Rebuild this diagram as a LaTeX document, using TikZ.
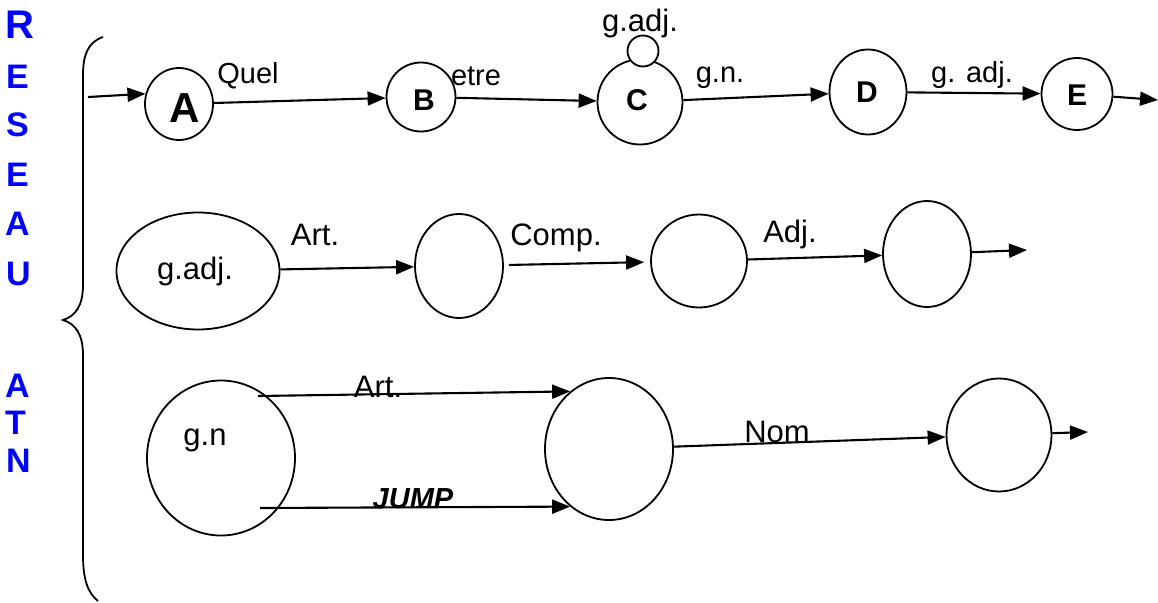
\documentclass[tikz,border=0pt]{standalone}
\usepackage{fontspec}
\setmainfont{Liberation Sans}
\usetikzlibrary{shapes.geometric,arrows.meta}
\definecolor{netblue}{RGB}{0,0,255}
\begin{document}
\begin{tikzpicture}[x=1pt,y=-1pt,
  stnode/.style={draw, ellipse, line width=1.8pt, inner sep=0pt},
  arr/.style={line width=2.1pt, -{Triangle[length=18pt,width=14pt]}},
  lab/.style={inner sep=0pt, anchor=base, font=\fontsize{29}{31}\selectfont},
  labL/.style={inner sep=0pt, anchor=base, font=\fontsize{31}{33}\selectfont},
  bigletter/.style={inner sep=0pt, font=\bfseries\fontsize{30}{32}\selectfont},
  sideletter/.style={inner sep=0pt, anchor=west, text=netblue, font=\bfseries\fontsize{34}{36}\selectfont},
]
\useasboundingbox (0,0) rectangle (1158,602);

% side title
\node[sideletter, font=\bfseries\fontsize{40}{42}\selectfont] (sR) at (5,25) {R};
\node[sideletter] (sE1) at (6,77) {E};
\node[sideletter] (sS) at (6,124.5) {S};
\node[sideletter] (sE2) at (6,175) {E};
\node[sideletter] (sA) at (5,223.5) {A};
\node[sideletter] (sU) at (6,273.5) {U};
\node[sideletter] (sA2) at (5,385.5) {A};
\node[sideletter] (sT) at (5,422.5) {T};
\node[sideletter] (sN) at (6,460.5) {N};

% brace
\draw[line width=1.8pt] (103,37) .. controls (88,42) and (83,55) .. (83,75) -- (83,285)
  .. controls (83,305) and (76,316) .. (63,320)
  .. controls (76,324) and (83,335) .. (83,355) -- (83,555)
  .. controls (83,580) and (88,593) .. (98,601);

% row 1
\node[stnode, minimum width=68pt, minimum height=72pt] (A) at (179,104) {};
\node[stnode, minimum width=69pt, minimum height=69pt] (B) at (421,97) {};
\node[stnode, minimum width=85pt, minimum height=85pt] (C) at (640,102) {};
\node[stnode, fill=white, minimum width=31pt, minimum height=31pt] (loopC) at (643,51) {};
\node[stnode, minimum width=77pt, minimum height=85pt] (D) at (868,92) {};
\node[stnode, minimum width=71pt, minimum height=72pt] (E) at (1077,94) {};

\node[bigletter, font=\bfseries\fontsize{42}{44}\selectfont] (tA) at (185,108) {A};
\node[bigletter] (tB) at (424,100) {B};
\node[bigletter] (tC) at (637,100) {C};
\node[bigletter] (tD) at (867,92) {D};
\node[bigletter] (tE) at (1077,95) {E};

\node[lab] (lQuel) at (248,83) {Quel};
\node[lab] (letre) at (476,85) {etre};
\node[labL] (lloop) at (640,32) {g.adj.};
\node[lab] (lgn) at (720,82) {g.n.};
\node[lab] (lgadj) at (972,82) {g. adj.};

\coordinate (in) at (88,97);
\coordinate (outE) at (1158,100);
\draw[arr] (in) -- (A.163);
\draw[arr] (A) -- (B);
\draw[arr] (B) -- (C);
\draw[arr] (C) -- (D);
\draw[arr] (D) -- (E);
\draw[arr] (E) -- (outE);

% row 2
\node[stnode, minimum width=163pt, minimum height=117pt] (ga) at (198,271) {};
\node[stnode, minimum width=88pt, minimum height=104pt] (c1) at (459,266) {};
\node[stnode, minimum width=96pt, minimum height=93pt] (c2) at (699,261) {};
\node[stnode, minimum width=88pt, minimum height=106pt] (c3) at (927,254) {};

\node[labL] (tga) at (195,279) {g.adj.};
\node[labL] (lArt) at (315,245) {Art.};
\node[labL] (lComp) at (556,245) {Comp.};
\node[labL] (lAdj) at (790,242) {Adj.};

\coordinate (outc3) at (1027,250);
\draw[arr] (ga) -- (c1);
\draw[arr, shorten <=5pt, shorten >=6pt] (c1) -- (c2);
\draw[arr] (c2) -- (c3);
\draw[arr] (c3) -- (outc3);

% row 3
\node[stnode, minimum width=148pt, minimum height=155pt] (gn) at (221,458) {};
\node[stnode, minimum width=128pt, minimum height=142pt] (mid) at (609,449) {};
\node[stnode, minimum width=105pt, minimum height=113pt] (r) at (999,435) {};

\node[labL] (tgn) at (205,445) {g.n};
\node[labL] (lArt2) at (378,397) {Art.};
\node[labL] (lNom) at (777,442) {Nom};
\node[inner sep=0pt, anchor=base, font=\bfseries\itshape\fontsize{29}{31}\selectfont] (lJump) at (413,508) {JUMP};

\coordinate (gnA) at (258,396);
\coordinate (gnJ) at (260,508);
\coordinate (outr) at (1088,432);
\draw[arr] (gnA) -- (mid.124);
\draw[arr] (gnJ) -- (mid.236);
\draw[arr] (mid) -- (r);
\draw[arr] (r) -- (outr);
\end{tikzpicture}
\end{document}
